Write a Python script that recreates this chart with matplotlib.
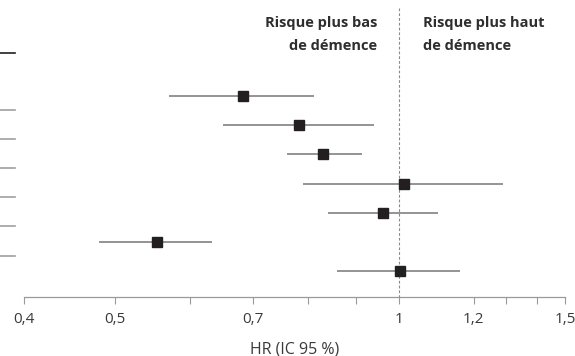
import matplotlib
matplotlib.use("Agg")
import matplotlib.pyplot as plt
import matplotlib.transforms as mtransforms
from matplotlib.ticker import FixedLocator, FixedFormatter, NullFormatter

# ---- data ----
hr = [0.683, 0.783, 0.830, 1.012, 0.962, 0.553, 1.002]
ci_low = [0.570, 0.650, 0.760, 0.791, 0.841, 0.480, 0.859]
ci_high = [0.812, 0.941, 0.913, 1.289, 1.100, 0.633, 1.161]
major_ticks = [0.4, 0.5, 0.7, 1.0, 1.2, 1.5]
major_labels = ["0,4", "0,5", "0,7", "1", "1,2", "1,5"]
minor_ticks = [0.6, 0.8, 0.9, 1.3, 1.4]
label_lower = "Risque plus bas\nde démence"
label_higher = "Risque plus haut\nde démence"
xlabel = "HR (IC 95 %)"

W, H = 575, 356
fig = plt.figure(figsize=(W / 100, H / 100), dpi=100)
plt.rcParams['font.family'] = ['Open Sans', 'DejaVu Sans']

ax = fig.add_axes([24 / W, (H - 297) / H, (565 - 24) / W, 297 / H])
ax.set_xscale('log')
ax.set_xlim(0.4, 1.5)
ax.set_ylim(6.88, -3.29)

rows = list(range(len(hr)))
for i in rows:
    ax.plot([ci_low[i], ci_high[i]], [i, i], color='#7c7c7c', lw=1.15,
            solid_capstyle='butt', zorder=2)
ax.plot(hr, rows, 's', color='#231f20', markersize=7.3, zorder=3, linestyle='none')

# reference line
ax.plot([1, 1], [-3.0, 6.88], color='#8a8a8a', lw=0.8, dashes=(2.5, 1.8), zorder=1)

# spines
for s in ['top', 'right', 'left']:
    ax.spines[s].set_visible(False)
ax.spines['bottom'].set_color('#9a9a9a')
ax.spines['bottom'].set_linewidth(0.9)
ax.yaxis.set_visible(False)

ax.xaxis.set_major_locator(FixedLocator(major_ticks))
ax.xaxis.set_major_formatter(FixedFormatter(major_labels))
ax.xaxis.set_minor_locator(FixedLocator(minor_ticks))
ax.xaxis.set_minor_formatter(NullFormatter())
ax.tick_params(axis='x', which='both', direction='out', length=5, width=0.8,
               color='#9a9a9a', labelsize=11, labelcolor='#3a3a3a', pad=6)
ax.set_xlabel(xlabel, fontsize=11.5, color='#3a3a3a', labelpad=10)

# headings
fig.text(377 / W, 1 - 16 / H, label_lower, ha='right', va='top', fontsize=10.5,
         fontweight='bold', color='#2e2e2e', linespacing=1.8)
fig.text(423 / W, 1 - 16 / H, label_higher, ha='left', va='top', fontsize=10.5,
         fontweight='bold', color='#2e2e2e', linespacing=1.8)

# left table separators (cropped table)
trans = mtransforms.blended_transform_factory(fig.transFigure, ax.transData)
ax.plot([0, 15 / W], [-1.47, -1.47], color='#231f20', lw=1.2, transform=trans, clip_on=False)
for i in rows[:-1]:
    ax.plot([0, 15 / W], [i + 0.46, i + 0.46], color='#a0a0a0', lw=1.2,
            transform=trans, clip_on=False)

fig.savefig('out.png', dpi=100)
